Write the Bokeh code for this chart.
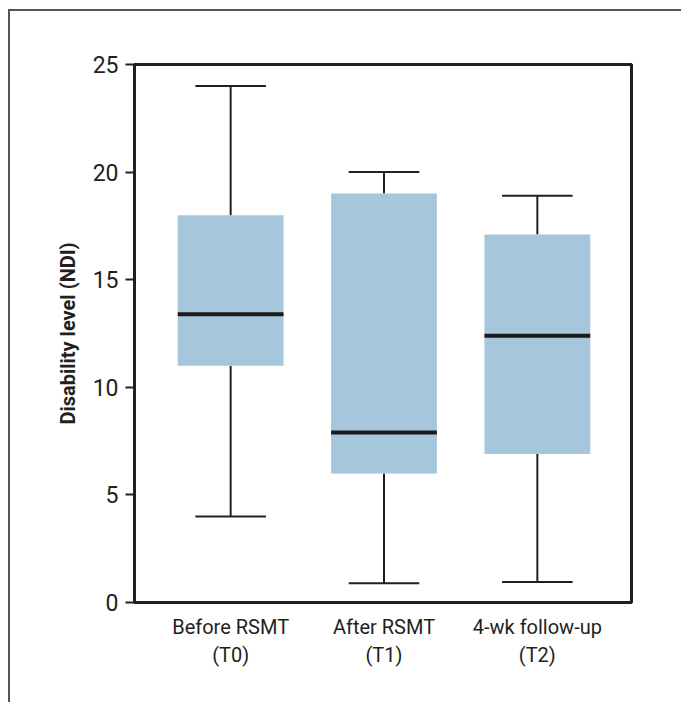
import numpy as np
from bokeh.plotting import figure
from bokeh.models import Range1d, FixedTicker, ColumnDataSource
from bokeh.embed import file_html
from bokeh.resources import INLINE

categories = ["Before RSMT\n(T0)", "After RSMT\n(T1)", "4-wk follow-up\n(T2)"]
lower = [4.0, 0.9, 0.95]
q1 = [11.0, 6.0, 6.9]
median = [13.4, 7.9, 12.4]
q3 = [18.0, 19.0, 17.1]
upper = [24.0, 20.0, 18.9]
y_ticks = [0, 5, 10, 15, 20, 25]

pos = np.arange(1, len(categories) + 1)
box_w = 0.69
cap_half = 0.23

src = ColumnDataSource(dict(
    x=pos, lower=lower, q1=q1, median=median, q3=q3, upper=upper,
    cap_l=pos - cap_half, cap_r=pos + cap_half,
    box_l=pos - box_w / 2, box_r=pos + box_w / 2,
))

FONT = "Roboto"
DARK = "#231f20"

p = figure(width=673, height=693, output_backend="svg", toolbar_location=None,
           x_range=Range1d(0.373, 3.614), y_range=Range1d(0, 25),
           min_border_left=124, min_border_top=53, min_border_right=52,
           min_border_bottom=102,
           styles={"margin-left": "8px", "margin-top": "9px",
                   "border-top": "2px solid #555", "border-left": "2px solid #555"})

p.outline_line_color = DARK
p.outline_line_width = 3
p.grid.visible = False
p.background_fill_color = "white"

# whiskers
p.segment(x0="x", y0="q3", x1="x", y1="upper", source=src, line_color=DARK, line_width=2)
p.segment(x0="x", y0="lower", x1="x", y1="q1", source=src, line_color=DARK, line_width=2)
p.segment(x0="cap_l", y0="upper", x1="cap_r", y1="upper", source=src, line_color=DARK, line_width=2)
p.segment(x0="cap_l", y0="lower", x1="cap_r", y1="lower", source=src, line_color=DARK, line_width=2)
# boxes
p.vbar(x="x", width=box_w, bottom="q1", top="q3", source=src,
       fill_color="#a6c6dc", line_color=None)
# medians
p.segment(x0="box_l", y0="median", x1="box_r", y1="median", source=src,
          line_color="#1a1a1a", line_width=4)

# y axis
ya = p.yaxis[0]
ya.ticker = FixedTicker(ticks=y_ticks)
ya.minor_tick_line_color = None
ya.major_tick_out = 9
ya.major_tick_in = 0
ya.major_tick_line_width = 2
ya.major_tick_line_color = DARK
ya.axis_line_width = 3
ya.axis_line_color = DARK
ya.major_label_text_font = FONT
ya.major_label_text_font_size = "23px"
ya.major_label_text_color = DARK
ya.major_label_standoff = 7
ya.axis_label = "Disability level (NDI)"
ya.axis_label_text_font = FONT
ya.axis_label_text_font_size = "20px"
ya.axis_label_text_font_style = "bold"
ya.axis_label_text_color = DARK
ya.axis_label_standoff = 10

# x axis
xa = p.xaxis[0]
xa.ticker = FixedTicker(ticks=list(pos))
xa.major_label_overrides = {int(i): c for i, c in zip(pos, categories)}
xa.minor_tick_line_color = None
xa.major_tick_line_color = None
xa.axis_line_width = 3
xa.axis_line_color = DARK
xa.major_label_text_font = FONT
xa.major_label_text_font_size = "20px"
xa.major_label_text_color = DARK
xa.major_label_standoff = 6

open("out.html", "w").write(file_html(p, INLINE))
